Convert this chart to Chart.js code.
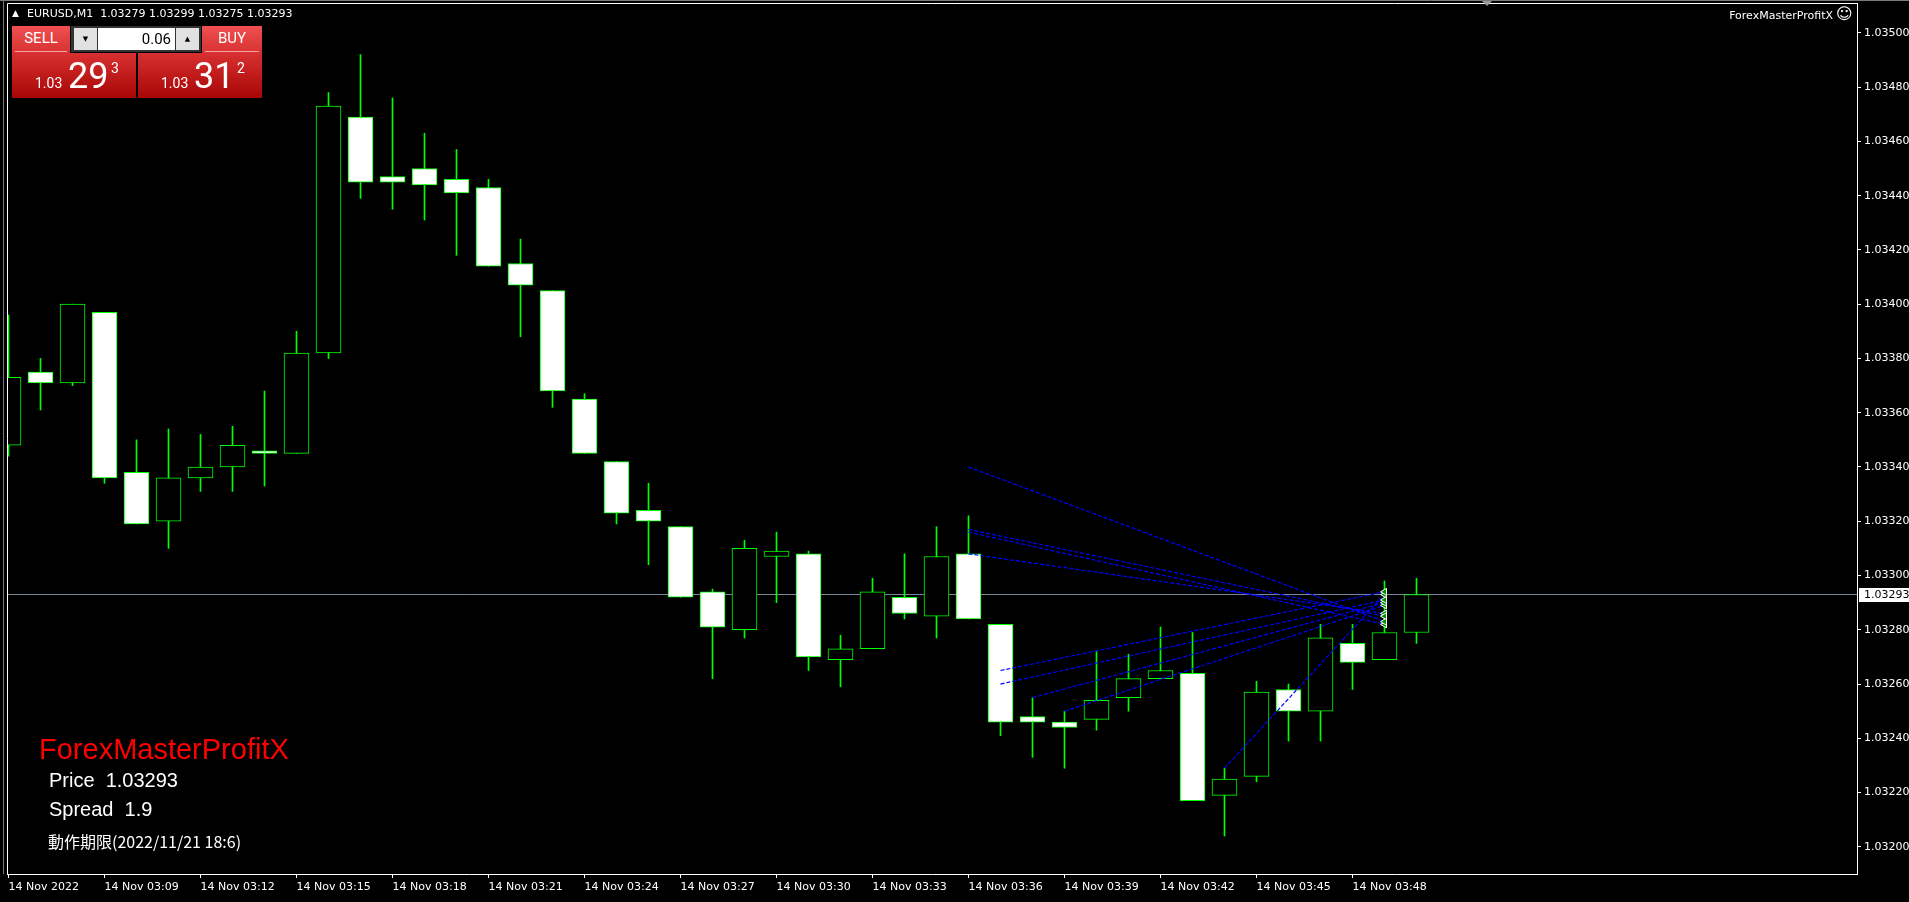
<!DOCTYPE html>
<html>
<head>
<meta charset="utf-8">
<script src="https://cdn.jsdelivr.net/npm/chart.js@4.4.1/dist/chart.umd.min.js"></script>
<style>
  html, body { margin: 0; padding: 0; background: #000; overflow: hidden; }
  #wrap { position: relative; width: 1909px; height: 902px; }
  #c { position: absolute; left: 0; top: 0; }
  .ov { position: absolute; white-space: pre; color: #fff; }
  .red { position: absolute; color: #fff; font-family: Roboto; }
  .btn { background: linear-gradient(#ef5050, #d83232); text-align: center; font: 15px/25px Roboto; }
  .btn::after { content: ""; position: absolute; left: 3px; right: 3px; bottom: 1px; height: 1px; background: #f4a3a3; }
  .pxbox { background: linear-gradient(#d83030, #a80606); }
  .pxbox span { position: absolute; line-height: 1; }
  #lot { position: absolute; left: 71px; top: 26px; width: 130px; height: 26px; background: #333; }
  #lot div { position: absolute; top: 2px; height: 22px; }
  .arr { width: 23px; background: #e1e1e1; color: #000; font: 7px/22px "DejaVu Sans"; text-align: center; }
</style>
</head>
<body>
<div id="wrap">
  <canvas id="c" width="1909" height="902"></canvas>

  <div class="ov" style="left:12px;top:9px;font:9px/1 'DejaVu Sans'">▲</div>
  <div class="ov" id="hdr" style="left:27px;top:8px;font:11px/1 'DejaVu Sans'"></div>
  <div class="ov" style="right:76px;top:10px;font:11px/1 'DejaVu Sans'">ForexMasterProfitX</div>
  <div class="ov" style="left:1836px;top:6px;font:16px/1 'DejaVu Sans'">☺</div>

  <div class="red btn" style="left:12px;top:26px;width:58px;height:27px">SELL</div>
  <div id="lot">
    <div class="arr" style="left:3px">▼</div>
    <div style="left:27px;width:77px;background:#fff;color:#000;font:15px/22px Roboto;text-align:right"><span style="padding-right:4px">0.06</span></div>
    <div class="arr" style="left:105px">▲</div>
  </div>
  <div class="red btn" style="left:202px;top:26px;width:60px;height:27px">BUY</div>
  <div class="red pxbox" id="sellPx" style="left:12px;top:53px;width:124px;height:45px"></div>
  <div class="red pxbox" id="buyPx" style="left:138px;top:53px;width:124px;height:45px"></div>

  <div class="ov" style="left:39px;top:735px;font:29px/1 'Liberation Sans';color:#ff0000">ForexMasterProfitX</div>
  <div class="ov" id="priceTxt" style="left:49px;top:770px;font:20px/1 'Liberation Sans'"></div>
  <div class="ov" id="spreadTxt" style="left:49px;top:799px;font:20px/1 'Liberation Sans'"></div>
  <div class="ov" style="left:48px;top:833px;font:16px/1 'Noto Sans CJK JP'">動作期限(2022/11/21 18:6)</div>
</div>

<script>
// EURUSD M1, 14 Nov 03:06 .. 03:50
const symbol = 'EURUSD,M1';
const datePrefix = '14 Nov ';
const firstLabel = '14 Nov 2022';
const timeLabels = ['03:06','03:07','03:08','03:09','03:10','03:11','03:12','03:13','03:14','03:15',
  '03:16','03:17','03:18','03:19','03:20','03:21','03:22','03:23','03:24','03:25',
  '03:26','03:27','03:28','03:29','03:30','03:31','03:32','03:33','03:34','03:35',
  '03:36','03:37','03:38','03:39','03:40','03:41','03:42','03:43','03:44','03:45',
  '03:46','03:47','03:48','03:49','03:50'];

const openP = [1.03348,1.03375,1.03371,1.03397,1.03338,1.03320,1.03336,1.03340,1.03346,1.03345,
  1.03382,1.03469,1.03447,1.03450,1.03446,1.03443,1.03415,1.03405,1.03365,1.03342,
  1.03324,1.03318,1.03294,1.03280,1.03307,1.03308,1.03269,1.03273,1.03292,1.03285,
  1.03308,1.03282,1.03248,1.03246,1.03247,1.03255,1.03262,1.03264,1.03219,1.03226,
  1.03258,1.03250,1.03275,1.03269,1.03279];
const highP = [1.03396,1.03380,1.03400,1.03397,1.03350,1.03354,1.03352,1.03355,1.03368,1.03390,
  1.03478,1.03492,1.03476,1.03463,1.03457,1.03446,1.03424,1.03405,1.03367,1.03342,
  1.03334,1.03318,1.03295,1.03313,1.03316,1.03309,1.03278,1.03299,1.03308,1.03318,
  1.03322,1.03282,1.03255,1.03250,1.03272,1.03271,1.03281,1.03279,1.03229,1.03261,
  1.03260,1.03282,1.03282,1.03298,1.03299];
const lowP = [1.03344,1.03361,1.03370,1.03334,1.03319,1.03310,1.03331,1.03331,1.03333,1.03345,
  1.03380,1.03439,1.03435,1.03431,1.03418,1.03414,1.03388,1.03362,1.03345,1.03319,
  1.03304,1.03292,1.03262,1.03277,1.03290,1.03265,1.03259,1.03273,1.03284,1.03277,
  1.03284,1.03241,1.03233,1.03229,1.03243,1.03250,1.03262,1.03217,1.03204,1.03224,
  1.03239,1.03239,1.03258,1.03269,1.03275];
const closeP = [1.03373,1.03371,1.03400,1.03336,1.03319,1.03336,1.03340,1.03348,1.03345,1.03382,
  1.03473,1.03445,1.03445,1.03444,1.03441,1.03414,1.03407,1.03368,1.03345,1.03323,
  1.03320,1.03292,1.03281,1.03310,1.03309,1.03270,1.03273,1.03294,1.03286,1.03307,
  1.03284,1.03246,1.03246,1.03244,1.03254,1.03262,1.03265,1.03217,1.03225,1.03257,
  1.03250,1.03277,1.03268,1.03279,1.03293];
const askPrice = 1.03312;

// dotted fan lines drawn by the EA (bar index / price at both ends)
const fanFrom  = [30, 30, 30, 30, 31, 31, 32, 33, 38];
const fanFromP = [1.03340, 1.03317, 1.03316, 1.03308, 1.03265, 1.03260, 1.03255, 1.03250, 1.03229];
const fanTo    = [43, 43, 43, 43, 43, 43, 43, 43, 43];
const fanToP   = [1.03283, 1.03285, 1.03282, 1.03286, 1.03294, 1.03291, 1.03290, 1.03289, 1.03293];

const xTicks = [0, 3, 6, 9, 12, 15, 18, 21, 24, 27, 30, 33, 36, 39, 42];
const X_MIN = -0.047, X_MAX = 57.766;
const Y_MIN = 1.03190, Y_MAX = 1.03511;
const shiftMark = 46.2;

const GREEN = '#00ff00';
const bid = closeP[closeP.length - 1];
const last = closeP.length - 1;

document.getElementById('hdr').textContent = symbol + '  ' +
  [openP[last], highP[last], lowP[last], closeP[last]].map(v => v.toFixed(5)).join(' ');
document.getElementById('priceTxt').textContent = 'Price  ' + bid.toFixed(5);
document.getElementById('spreadTxt').textContent = 'Spread  ' + ((askPrice - bid) * 10000).toFixed(1);

function fillPrice(id, p) {
  const s = p.toFixed(5);
  document.getElementById(id).innerHTML =
    '<span style="left:23px;top:23px;font-size:14px">' + s.slice(0, 4) + '</span>' +
    '<span style="left:56px;top:5px;font-size:36px">' + s.slice(4, 6) + '</span>' +
    '<span style="left:99px;top:8px;font-size:14px">' + s.slice(6) + '</span>';
}
fillPrice('sellPx', bid);
fillPrice('buyPx', askPrice);

const wicks = openP.map((o, i) => ({ x: i, y: [lowP[i], highP[i]] }));
const bodies = openP.map((o, i) => ({ x: i, y: [o, closeP[i]] }));
const bodyFill = openP.map((o, i) => closeP[i] >= o ? '#000000' : '#ffffff');

const fanSets = fanFrom.map((f, i) => ({
  type: 'line',
  data: [{ x: f, y: fanFromP[i] }, { x: fanTo[i], y: fanToP[i] }],
  borderColor: '#0000ff',
  borderWidth: 1.2,
  borderDash: [4, 2],
  pointRadius: [0, 4],
  pointStyle: 'triangle',
  pointRotation: 270,
  pointBackgroundColor: '#008c00',
  pointBorderColor: '#ffffff',
  pointBorderWidth: 1,
  order: 0
}));

const decor = {
  id: 'decor',
  afterDraw(chart) {
    const { ctx, chartArea: a, scales } = chart;
    ctx.save();
    ctx.strokeStyle = '#ffffff';
    ctx.lineWidth = 1;
    ctx.beginPath();
    ctx.moveTo(a.left + 0.5, a.bottom);
    ctx.lineTo(a.left + 0.5, a.top + 0.5);
    ctx.lineTo(a.right, a.top + 0.5);
    ctx.stroke();

    ctx.strokeStyle = '#7a7a7a';
    ctx.beginPath();
    ctx.moveTo(3.5, 0); ctx.lineTo(3.5, a.bottom);
    ctx.moveTo(0, 0.5); ctx.lineTo(chart.width, 0.5);
    ctx.stroke();

    // chart shift marker
    const sx = Math.round(scales.x.getPixelForValue(shiftMark));
    ctx.fillStyle = '#9a9a9a';
    ctx.beginPath();
    ctx.moveTo(sx - 5, 1); ctx.lineTo(sx + 5, 1); ctx.lineTo(sx, 6); ctx.closePath();
    ctx.fill();

    // current bid label on the price scale
    const y = Math.round(scales.y.getPixelForValue(bid));
    ctx.fillStyle = '#ffffff';
    ctx.fillRect(a.right + 2, y - 7, chart.width - a.right - 2, 14);
    ctx.fillStyle = '#000000';
    ctx.font = '11px "DejaVu Sans"';
    ctx.textBaseline = 'middle';
    ctx.fillText(bid.toFixed(5), a.right + 7, y + 0.5);
    ctx.restore();
  }
};

new Chart(document.getElementById('c'), {
  type: 'bar',
  data: {
    datasets: [
      {
        type: 'line',
        data: [{ x: X_MIN, y: bid }, { x: X_MAX, y: bid }],
        borderColor: '#778899',
        borderWidth: 1,
        pointRadius: 0,
        order: 3
      },
      {
        data: wicks,
        backgroundColor: GREEN,
        borderWidth: 0,
        barThickness: 1,
        grouped: false,
        order: 2
      },
      {
        data: bodies,
        backgroundColor: bodyFill,
        borderColor: GREEN,
        borderWidth: 1,
        borderSkipped: false,
        barThickness: 25,
        grouped: false,
        order: 1
      },
      ...fanSets
    ]
  },
  options: {
    responsive: false,
    animation: false,
    devicePixelRatio: 1,
    layout: { padding: { left: 7, top: 3, right: 0, bottom: 0 }, autoPadding: false },
    plugins: { legend: { display: false }, tooltip: { enabled: false } },
    scales: {
      x: {
        type: 'linear',
        min: X_MIN,
        max: X_MAX,
        offset: false,
        grid: { offset: false, drawOnChartArea: false, drawTicks: true, tickLength: 4, color: '#ffffff' },
        border: { color: '#ffffff' },
        ticks: {
          color: '#ffffff',
          font: { family: 'DejaVu Sans', size: 11 },
          align: 'start',
          maxRotation: 0,
          autoSkip: false,
          padding: 3,
          callback: v => v === 0 ? firstLabel : datePrefix + timeLabels[v]
        },
        afterBuildTicks: s => { s.ticks = xTicks.map(v => ({ value: v })); },
        afterFit: s => { s.height = 28; s.paddingLeft = 0; s.paddingRight = 0; }
      },
      y: {
        position: 'right',
        min: Y_MIN,
        max: Y_MAX,
        grid: { drawOnChartArea: false, drawTicks: true, tickLength: 4, color: '#ffffff' },
        border: { color: '#ffffff' },
        ticks: {
          stepSize: 0.0002,
          includeBounds: false,
          color: '#ffffff',
          font: { family: 'DejaVu Sans', size: 11 },
          padding: 3,
          callback: v => v.toFixed(5)
        },
        afterFit: s => { s.width = 52; s.paddingTop = 0; s.paddingBottom = 0; }
      }
    }
  },
  plugins: [decor]
});
</script>
</body>
</html>
